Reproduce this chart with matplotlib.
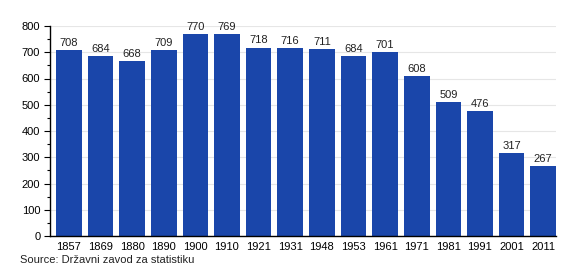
import matplotlib.pyplot as plt
from matplotlib.ticker import MultipleLocator

plt.rcParams['font.family'] = ['Liberation Sans', 'DejaVu Sans']

years = ['1857', '1869', '1880', '1890', '1900', '1910', '1921', '1931',
         '1948', '1953', '1961', '1971', '1981', '1991', '2001', '2011']
population = [708, 684, 668, 709, 770, 769, 718, 716, 711, 684, 701, 608,
              509, 476, 317, 267]

barWidth = 0.81
gap = 1 - barWidth

fig = plt.figure(figsize=(5.8, 2.8), dpi=100)
ax = fig.add_axes([50 / 580, 44 / 280, 506 / 580, 210 / 280])

pos = list(range(len(years)))
bars = ax.bar(pos, population, width=barWidth, color='#1a46aa', zorder=2)
for b, v in zip(bars, population):
    ax.text(b.get_x() + b.get_width() / 2, v + 8, str(v), ha='center',
            va='bottom', fontsize=8, color='#222222')

ax.set_xlim(-barWidth / 2 - gap, len(years) - 1 + barWidth / 2)
ax.set_ylim(0, 800)
ax.set_xticks(pos)
ax.set_xticklabels(years, fontsize=8)
ax.tick_params(axis='x', length=0, pad=4)
ax.yaxis.set_major_locator(MultipleLocator(100))
ax.yaxis.set_minor_locator(MultipleLocator(50))
ax.tick_params(axis='y', which='major', length=4, width=0.8, labelsize=8, pad=3)
ax.tick_params(axis='y', which='minor', length=2, width=0.8)
ax.grid(axis='y', color='#e6e6e6', linewidth=0.8, zorder=0)

for s in ['top', 'right']:
    ax.spines[s].set_visible(False)
ax.spines['left'].set_linewidth(1)
ax.spines['bottom'].set_linewidth(1)

fig.text(20 / 580, 1 - 260 / 280, 'Source: Državni zavod za statistiku',
         fontsize=8, va='center', ha='left', color='#222222')

fig.savefig('out.png', dpi=100)
